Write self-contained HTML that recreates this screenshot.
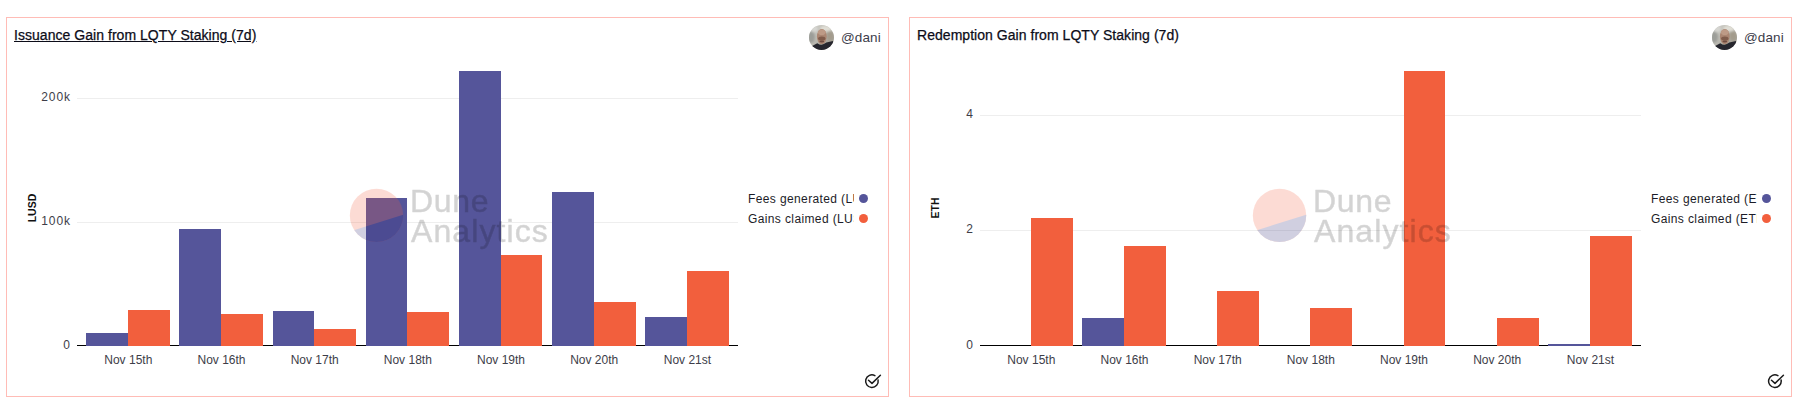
<!DOCTYPE html>
<html lang="en"><head><meta charset="utf-8"><title>Dune Analytics</title>
<style>
html,body{margin:0;padding:0;background:#fff;}
body{width:1805px;height:407px;position:relative;overflow:hidden;font-family:"Liberation Sans",sans-serif;color:#1e1e2d;}
.panel{position:absolute;top:17px;width:883px;height:380px;box-sizing:border-box;border:1px solid #ffbcb6;background:#fff;}
.panel:nth-of-type(1){left:6px;}
.panel:nth-of-type(2){left:909px;}
.title{position:absolute;left:7px;top:9px;font-size:14px;letter-spacing:0.04px;line-height:16px;white-space:nowrap;color:#0c0c18;-webkit-text-stroke:0.25px #0c0c18;}
.title.u{text-decoration:underline;}
.user{position:absolute;left:802px;top:7px;height:25px;}
.avatar{position:absolute;left:0;top:0;}
.uname{position:absolute;left:32px;top:5px;font-size:13.5px;letter-spacing:0.1px;line-height:16px;color:#3c3c4a;}
.chart{position:absolute;left:-1px;top:-1px;}
.tick{font-size:12px;fill:#3d3d48;}
.yt{letter-spacing:0.9px;}
.ylab{font-size:10.5px;fill:#111;font-weight:bold;}
.wm{font-size:32px;fill:#000;stroke:#000;stroke-width:0.5px;opacity:0.17;}
.legend{position:absolute;left:741px;top:170px;width:125px;}
.li{position:relative;height:20px;}
.lt{position:absolute;left:0;top:3px;width:106px;overflow:hidden;white-space:nowrap;font-size:12px;letter-spacing:0.38px;line-height:16px;color:#1c1c28;}
.dot{position:absolute;left:111px;top:6px;width:9px;height:9px;border-radius:50%;}
.check{position:absolute;right:8px;bottom:7px;overflow:visible;}
</style></head><body>
<div class="panel">
<div class="title u">Issuance Gain from LQTY Staking (7d)</div>
<div class="user"><svg class="avatar" width="25" height="25" viewBox="0 0 25 25"><defs><clipPath id="av1"><circle cx="12.5" cy="12.5" r="12.5"/></clipPath><linearGradient id="ag1" x1="0" y1="0" x2="1" y2="1"><stop offset="0" stop-color="#cfcfca"/><stop offset="0.45" stop-color="#bcbab2"/><stop offset="1" stop-color="#948f84"/></linearGradient><filter id="af1" x="-30%" y="-30%" width="160%" height="160%"><feGaussianBlur stdDeviation="1.1"/></filter><filter id="ah1" x="-30%" y="-30%" width="160%" height="160%"><feGaussianBlur stdDeviation="0.55"/></filter></defs><g clip-path="url(#av1)"><rect width="25" height="25" fill="url(#ag1)"/><g filter="url(#af1)"><ellipse cx="2" cy="12" rx="4" ry="6" fill="#9c9e99"/><ellipse cx="17" cy="3.5" rx="6" ry="3" fill="#e0ded6"/><ellipse cx="5" cy="4" rx="4" ry="3" fill="#d6d6d2"/><ellipse cx="21" cy="11" rx="3.5" ry="4.5" fill="#a39b8c"/></g><g filter="url(#ah1)"><ellipse cx="12.8" cy="11.6" rx="4.9" ry="7.6" fill="#ab8672"/><ellipse cx="12.8" cy="7.2" rx="3.8" ry="2.8" fill="#bd9a86"/><ellipse cx="12.8" cy="13.4" rx="3.7" ry="2.0" fill="#805b4b"/><ellipse cx="12.8" cy="16.4" rx="2.4" ry="1.0" fill="#6e4c40"/><path d="M-1 26 L-1 22.5 L3.6 20.7 L8.3 18.2 Q12.8 21.6 17.3 17.6 L24 15.9 L27 26 Z" fill="#26282d"/></g></g></svg><span class="uname">@dani</span></div>
<svg class="chart" width="883" height="380" viewBox="6 17 883 380" shape-rendering="crispEdges">
<rect x="77" y="98" width="661" height="1" fill="#eeeeee"/>
<rect x="77" y="222" width="661" height="1" fill="#eeeeee"/>
<rect x="77" y="345" width="661" height="1" fill="#000"/>
<rect x="86" y="333" width="42" height="13" fill="#55559a"/>
<rect x="128" y="310" width="42" height="36" fill="#f25f3d"/>
<rect x="179" y="229" width="42" height="117" fill="#55559a"/>
<rect x="221" y="314" width="42" height="32" fill="#f25f3d"/>
<rect x="273" y="311" width="41" height="35" fill="#55559a"/>
<rect x="314" y="329" width="42" height="17" fill="#f25f3d"/>
<rect x="366" y="198" width="41" height="148" fill="#55559a"/>
<rect x="407" y="312" width="42" height="34" fill="#f25f3d"/>
<rect x="459" y="71" width="42" height="275" fill="#55559a"/>
<rect x="501" y="255" width="41" height="91" fill="#f25f3d"/>
<rect x="552" y="192" width="42" height="154" fill="#55559a"/>
<rect x="594" y="302" width="42" height="44" fill="#f25f3d"/>
<rect x="645" y="317" width="42" height="29" fill="#55559a"/>
<rect x="687" y="271" width="42" height="75" fill="#f25f3d"/>
<text class="tick yt" x="70.9" y="101" text-anchor="end">200k</text>
<text class="tick yt" x="70.9" y="225" text-anchor="end">100k</text>
<text class="tick yt" x="70.9" y="349" text-anchor="end">0</text>
<text class="tick" x="128.3" y="364" text-anchor="middle">Nov 15th</text>
<text class="tick" x="221.5" y="364" text-anchor="middle">Nov 16th</text>
<text class="tick" x="314.7" y="364" text-anchor="middle">Nov 17th</text>
<text class="tick" x="407.8" y="364" text-anchor="middle">Nov 18th</text>
<text class="tick" x="501.0" y="364" text-anchor="middle">Nov 19th</text>
<text class="tick" x="594.2" y="364" text-anchor="middle">Nov 20th</text>
<text class="tick" x="687.4" y="364" text-anchor="middle">Nov 21st</text>
<text class="ylab" transform="translate(36,208) rotate(-90)" text-anchor="middle">LUSD</text>
<g opacity="0.22" shape-rendering="auto">
<clipPath id="wc1"><circle cx="376.5" cy="215.4" r="26.7"/></clipPath>
<circle cx="376.5" cy="215.4" r="26.7" fill="#f4603e"/>
<polygon clip-path="url(#wc1)" points="340,234.5 410,212.5 410,250 340,250" fill="#2d2a78"/>
</g>
<text class="wm" x="410" y="211.5" style="letter-spacing:0.7px">Dune</text>
<text class="wm" x="411" y="241.9" style="letter-spacing:1.1px">Analytics</text>
</svg>
<div class="legend">
<div class="li"><span class="lt">Fees generated (LUSD)</span><span class="dot" style="background:#55559a"></span></div>
<div class="li"><span class="lt">Gains claimed (LUSD)</span><span class="dot" style="background:#f25f3d"></span></div>
</div>
<svg class="check" width="16" height="16" viewBox="0 0 16 16"><path d="M14.1 7.0 A6.3 6.3 0 1 1 10.9 2.6" fill="none" stroke="#1a1a1a" stroke-width="1.5" stroke-linecap="round"/><path d="M4.5 7.2 L8 10.4 L16.4 2.3" fill="none" stroke="#1a1a1a" stroke-width="1.5" stroke-linecap="round" stroke-linejoin="round"/></svg>
</div>
<div class="panel">
<div class="title">Redemption Gain from LQTY Staking (7d)</div>
<div class="user"><svg class="avatar" width="25" height="25" viewBox="0 0 25 25"><defs><clipPath id="av2"><circle cx="12.5" cy="12.5" r="12.5"/></clipPath><linearGradient id="ag2" x1="0" y1="0" x2="1" y2="1"><stop offset="0" stop-color="#cfcfca"/><stop offset="0.45" stop-color="#bcbab2"/><stop offset="1" stop-color="#948f84"/></linearGradient><filter id="af2" x="-30%" y="-30%" width="160%" height="160%"><feGaussianBlur stdDeviation="1.1"/></filter><filter id="ah2" x="-30%" y="-30%" width="160%" height="160%"><feGaussianBlur stdDeviation="0.55"/></filter></defs><g clip-path="url(#av2)"><rect width="25" height="25" fill="url(#ag2)"/><g filter="url(#af2)"><ellipse cx="2" cy="12" rx="4" ry="6" fill="#9c9e99"/><ellipse cx="17" cy="3.5" rx="6" ry="3" fill="#e0ded6"/><ellipse cx="5" cy="4" rx="4" ry="3" fill="#d6d6d2"/><ellipse cx="21" cy="11" rx="3.5" ry="4.5" fill="#a39b8c"/></g><g filter="url(#ah2)"><ellipse cx="12.8" cy="11.6" rx="4.9" ry="7.6" fill="#ab8672"/><ellipse cx="12.8" cy="7.2" rx="3.8" ry="2.8" fill="#bd9a86"/><ellipse cx="12.8" cy="13.4" rx="3.7" ry="2.0" fill="#805b4b"/><ellipse cx="12.8" cy="16.4" rx="2.4" ry="1.0" fill="#6e4c40"/><path d="M-1 26 L-1 22.5 L3.6 20.7 L8.3 18.2 Q12.8 21.6 17.3 17.6 L24 15.9 L27 26 Z" fill="#26282d"/></g></g></svg><span class="uname">@dani</span></div>
<svg class="chart" width="883" height="380" viewBox="6 17 883 380" shape-rendering="crispEdges">
<rect x="77" y="115" width="661" height="1" fill="#eeeeee"/>
<rect x="77" y="230" width="661" height="1" fill="#eeeeee"/>
<rect x="77" y="345" width="661" height="1" fill="#000"/>
<rect x="128" y="218" width="42" height="128" fill="#f25f3d"/>
<rect x="179" y="318" width="42" height="28" fill="#55559a"/>
<rect x="221" y="246" width="42" height="100" fill="#f25f3d"/>
<rect x="314" y="291" width="42" height="55" fill="#f25f3d"/>
<rect x="407" y="308" width="42" height="38" fill="#f25f3d"/>
<rect x="501" y="71" width="41" height="275" fill="#f25f3d"/>
<rect x="594" y="318" width="42" height="28" fill="#f25f3d"/>
<rect x="645" y="344" width="42" height="2" fill="#55559a"/>
<rect x="687" y="236" width="42" height="110" fill="#f25f3d"/>
<text class="tick yt" x="70.9" y="118" text-anchor="end">4</text>
<text class="tick yt" x="70.9" y="233" text-anchor="end">2</text>
<text class="tick yt" x="70.9" y="349" text-anchor="end">0</text>
<text class="tick" x="128.3" y="364" text-anchor="middle">Nov 15th</text>
<text class="tick" x="221.5" y="364" text-anchor="middle">Nov 16th</text>
<text class="tick" x="314.7" y="364" text-anchor="middle">Nov 17th</text>
<text class="tick" x="407.8" y="364" text-anchor="middle">Nov 18th</text>
<text class="tick" x="501.0" y="364" text-anchor="middle">Nov 19th</text>
<text class="tick" x="594.2" y="364" text-anchor="middle">Nov 20th</text>
<text class="tick" x="687.4" y="364" text-anchor="middle">Nov 21st</text>
<text class="ylab" transform="translate(36,208) rotate(-90)" text-anchor="middle">ETH</text>
<g opacity="0.22" shape-rendering="auto">
<clipPath id="wc2"><circle cx="376.5" cy="215.4" r="26.7"/></clipPath>
<circle cx="376.5" cy="215.4" r="26.7" fill="#f4603e"/>
<polygon clip-path="url(#wc2)" points="340,234.5 410,212.5 410,250 340,250" fill="#2d2a78"/>
</g>
<text class="wm" x="410" y="211.5" style="letter-spacing:0.7px">Dune</text>
<text class="wm" x="411" y="241.9" style="letter-spacing:1.1px">Analytics</text>
</svg>
<div class="legend">
<div class="li"><span class="lt">Fees generated (ETH)</span><span class="dot" style="background:#55559a"></span></div>
<div class="li"><span class="lt">Gains claimed (ETH)</span><span class="dot" style="background:#f25f3d"></span></div>
</div>
<svg class="check" width="16" height="16" viewBox="0 0 16 16"><path d="M14.1 7.0 A6.3 6.3 0 1 1 10.9 2.6" fill="none" stroke="#1a1a1a" stroke-width="1.5" stroke-linecap="round"/><path d="M4.5 7.2 L8 10.4 L16.4 2.3" fill="none" stroke="#1a1a1a" stroke-width="1.5" stroke-linecap="round" stroke-linejoin="round"/></svg>
</div>
</body></html>
